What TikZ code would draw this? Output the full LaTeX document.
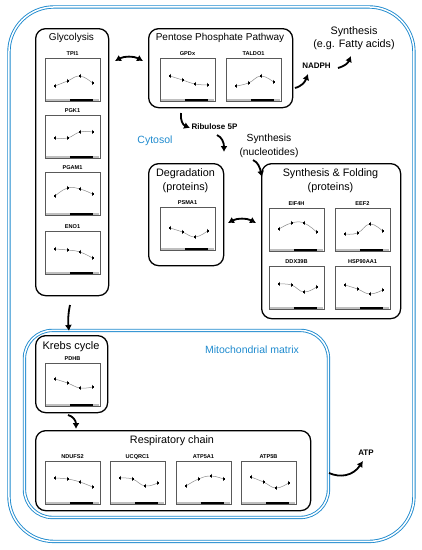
\documentclass[tikz,border=0pt]{standalone}
\usepackage{fontspec}
\setmainfont{Liberation Sans}
\usetikzlibrary{arrows.meta,calc}
\definecolor{cellblue}{RGB}{30,138,206}
\tikzset{
  cellline/.style={draw=cellblue,double=white,double distance=1.5pt,line width=0.9pt},
  pbox/.style={draw=black,line width=1.3pt,rounded corners=10pt,inner sep=0pt,anchor=north west},
  chartframe/.style={draw=black!65,line width=0.6pt,minimum width=55pt,minimum height=43pt,inner sep=0pt},
  chartlab/.style={font=\bfseries\fontsize{5.6}{6}\selectfont,inner sep=0pt},
  gbar/.style={line width=1.8pt,draw=black!25},
  kbar/.style={line width=1.8pt,draw=black},
  curve/.style={draw=black!45,line width=0.5pt},
  ebar/.style={draw=black!70,line width=0.35pt},
  ttl/.style={font=\fontsize{10}{12.5}\selectfont,align=center,inner sep=0pt},
  boldlab/.style={font=\bfseries\fontsize{8}{9}\selectfont,inner sep=0pt},
  bluelab/.style={font=\fontsize{10.5}{12}\selectfont,text=cellblue,inner sep=0pt},
  arr/.style={line width=1.8pt,-{Latex[length=6pt,width=7pt]}},
  darr/.style={line width=1.8pt,{Latex[length=6pt,width=7pt]}-{Latex[length=6pt,width=7pt]}}
}
\newcommand\chartbox[8]{%
  \node[chartframe,anchor=north west] (#1) at (#2,#3) {};
  \begin{scope}[shift={(#2,#3)}]
    \node[chartlab,anchor=base] (#1-lab) at (27.5,-2.8) {#4};
    \draw[gbar] (0.6,41.8) -- (54.4,41.8);
    \draw[kbar] (25,41.8) -- (48,41.8);
    \draw[curve] plot[smooth,tension=0.75] coordinates {(10,#5) (22.5,#6) (35,#7) (47.5,#8)};
    \foreach \px/\py in {10/#5,22.5/#6,35/#7,47.5/#8}{
      \draw[ebar] (\px,\py-2.3) -- (\px,\py+2.3);
      \fill (\px-1,\py-1) rectangle (\px+1,\py+1);}
  \end{scope}}
\begin{document}
\begin{tikzpicture}[x=1pt,y=-1pt]
\useasboundingbox (0,0) rectangle (422,550);
% outer cell and mitochondrion
\node[cellline,rounded corners=45pt,minimum width=405pt,minimum height=534.5pt,anchor=north west,inner sep=0pt] (cell) at (8.5,6.5) {};
\node[cellline,rounded corners=28pt,minimum width=304pt,minimum height=187pt,anchor=north west,inner sep=0pt] (mito) at (24,330) {};
% process boxes
\node[pbox,minimum width=73pt,minimum height=267pt] (glyc) at (35,28) {};
\node[pbox,minimum width=144pt,minimum height=79pt] (ppp) at (148,28) {};
\node[pbox,minimum width=75pt,minimum height=102pt] (degr) at (148,163) {};
\node[pbox,minimum width=139pt,minimum height=155pt] (synf) at (261,163) {};
\node[pbox,minimum width=72pt,minimum height=77pt] (krebs) at (35,335) {};
\node[pbox,minimum width=275pt,minimum height=80pt] (resp) at (35,430) {};
% titles
\node[ttl] (glyc-t) at (71.5,38) {Glycolysis};
\node[ttl] (ppp-t) at (220,38) {Pentose Phosphate Pathway};
\node[ttl,font=\fontsize{10.8}{14}\selectfont] (degr-t) at (185.5,181) {Degradation\\(proteins)};
\node[ttl,font=\fontsize{10.8}{14}\selectfont] (synf-t) at (330.5,181) {Synthesis \& Folding\\(proteins)};
\node[ttl,font=\fontsize{11}{12}\selectfont] (krebs-t) at (71,347) {Krebs cycle};
\node[ttl,font=\fontsize{10.8}{12}\selectfont] (resp-t) at (172,441) {Respiratory chain};
\node[ttl,font=\fontsize{10.8}{13}\selectfont] (sfa) at (354,38.5) {Synthesis\\(e.g. Fatty acids)};
\node[ttl,font=\fontsize{10.3}{14}\selectfont] (snuc) at (269,146) {Synthesis\\(nucleotides)};
\node[boldlab] (nadph) at (316.5,66) {NADPH};
\node[boldlab] (rib) at (214.5,127) {Ribulose 5P};
\node[boldlab] (atp) at (366,453) {ATP};
\node[bluelab] (cyto) at (155,141) {Cytosol};
\node[bluelab] (mitot) at (252,350) {Mitochondrial matrix};
% charts
\chartbox{tpi}{45}{58}{TPI1}{28}{23}{18}{25}
\chartbox{pgk}{45}{115}{PGK1}{23}{23}{17}{17}
\chartbox{pgam}{45}{172}{PGAM1}{24}{16}{17}{22}
\chartbox{eno}{45}{231}{ENO1}{18}{19}{21}{27}
\chartbox{gpd}{160}{58}{GPDx}{18}{22}{26}{27}
\chartbox{tal}{226}{58}{TALDO1}{28}{25}{18}{24}
\chartbox{psma}{160}{207}{PSMA1}{21}{25}{30}{24}
\chartbox{eif}{269}{208}{EIF4H}{21}{15}{15}{24}
\chartbox{eef}{335}{208}{EEF2}{26}{25}{16}{23}
\chartbox{ddx}{269}{266}{DDX39B}{18}{19}{26}{21}
\chartbox{hsp}{335}{266}{HSP90AA1}{19}{23}{28}{24}
\chartbox{pdhb}{45}{363}{PDHB}{16}{20}{25}{24}
\chartbox{nduf}{45}{461}{NDUFS2}{17}{18}{21}{26}
\chartbox{ucq}{110}{461}{UCQRC1}{17}{18}{25}{22}
\chartbox{atpa}{176}{461}{ATP5A1}{25}{18}{15}{18}
\chartbox{atpb}{241}{461}{ATP5B}{16}{21}{27}{22}
% arrow end points
\coordinate (g1) at (115,61);  \coordinate (g2) at (143,61);
\coordinate (n1) at (295,88);  \coordinate (n2) at (308,74);
\coordinate (f1) at (338,68);  \coordinate (f2) at (351,56);
\coordinate (r1) at (181,113); \coordinate (r2) at (190,128);
\coordinate (s1) at (217,135); \coordinate (s2) at (224,152);
\coordinate (q1) at (253,160); \coordinate (q2) at (262,177);
\coordinate (d1) at (228,223); \coordinate (d2) at (256,223);
\coordinate (k1) at (70,305);  \coordinate (k2) at (69,331);
\coordinate (c1) at (68,415);  \coordinate (c2) at (76,429);
\coordinate (a1) at (329,473); \coordinate (a2) at (363,461);
% arrows
\draw[darr] (g1) .. controls (124,56) and (134,56) .. (g2);
\draw[arr] (n1) .. controls (302,86) and (305,82) .. (n2);
\draw[arr] (f1) .. controls (345,66) and (348,63) .. (f2);
\draw[arr] (r1) .. controls (180,120) and (183,125) .. (r2);
\draw[arr] (s1) .. controls (222,137) and (224,143) .. (s2);
\draw[arr] (q1) .. controls (258,162) and (260,168) .. (q2);
\draw[darr] (d1) .. controls (237,218) and (247,218) .. (d2);
\draw[arr] (k1) .. controls (68,314) and (68,322) .. (k2);
\draw[arr] (c1) .. controls (73,416) and (76,421) .. (c2);
\draw[arr] (a1) .. controls (340,478) and (353,476) .. (a2);
\end{tikzpicture}
\end{document}
